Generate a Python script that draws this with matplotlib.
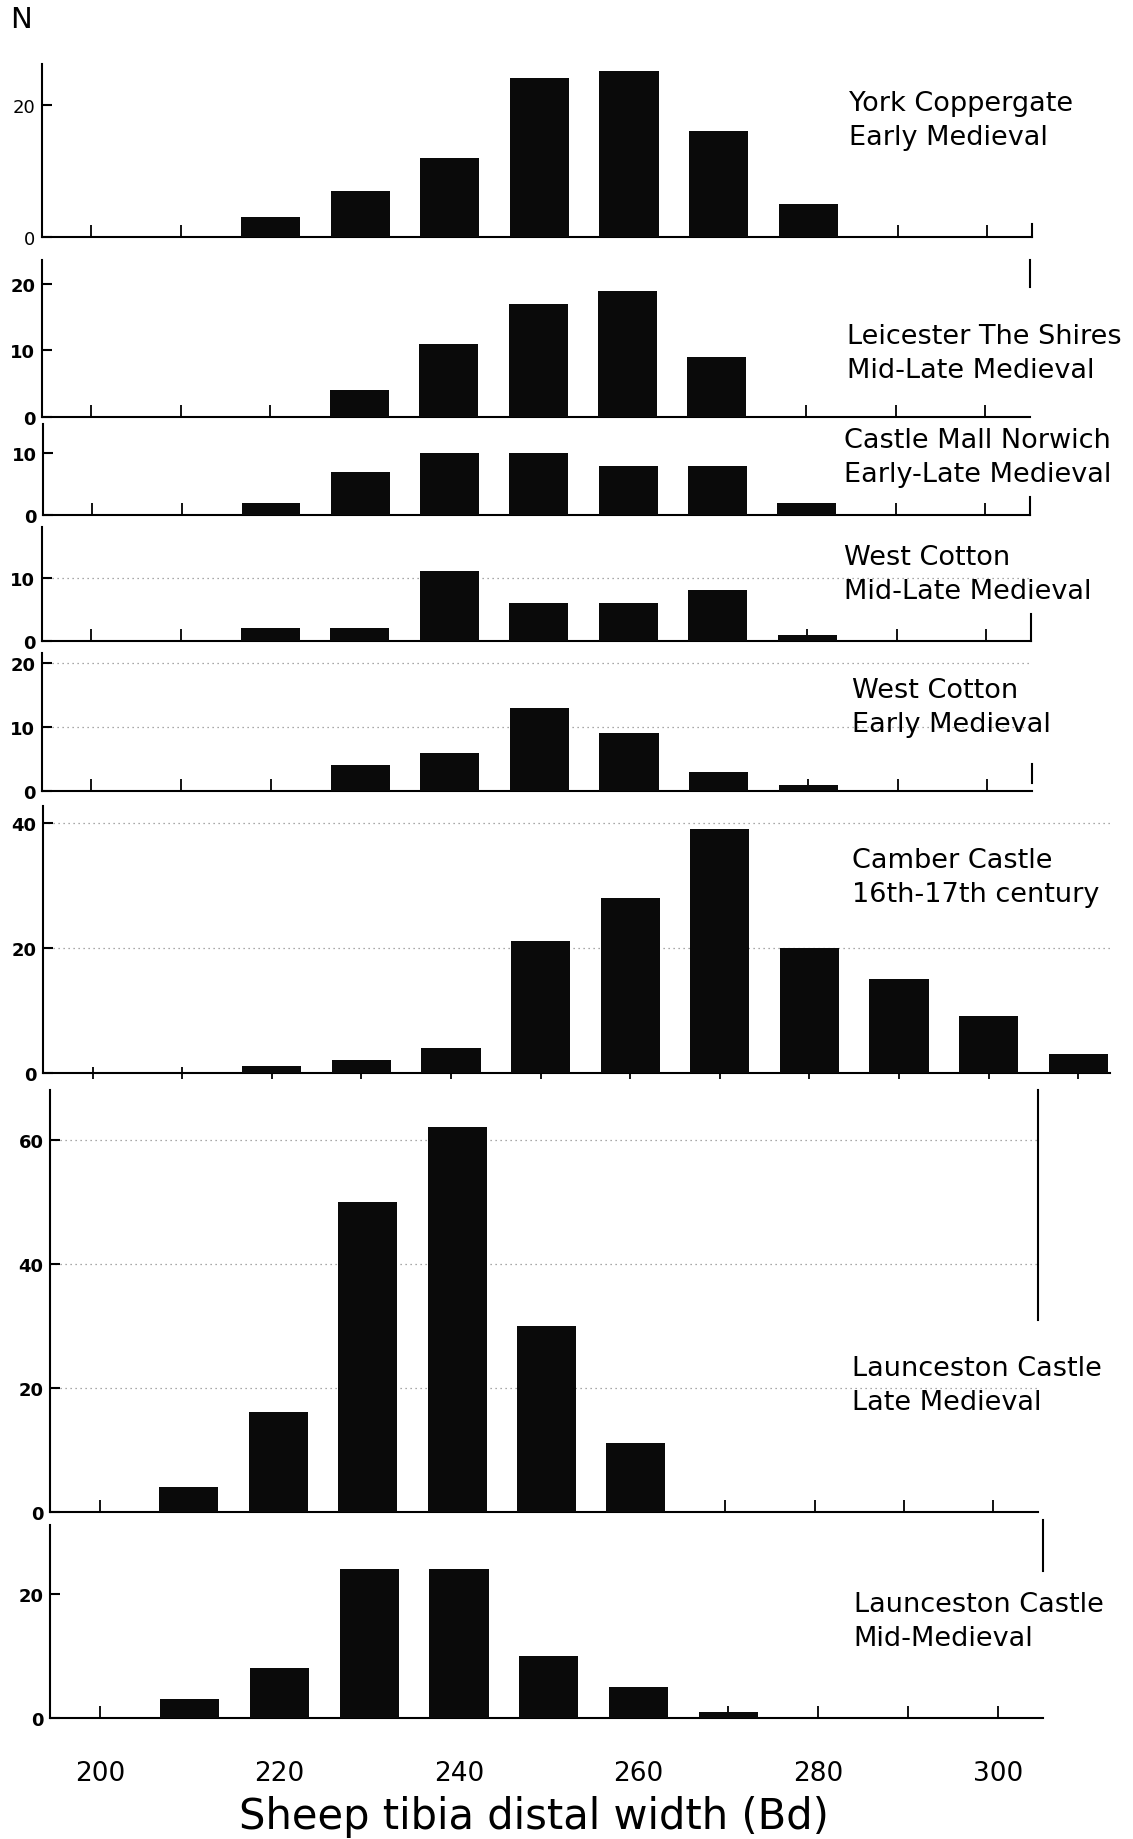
import matplotlib
matplotlib.use('Agg')
import matplotlib.pyplot as plt

# counts per 10-unit bin of distal width (Bd)
york_bd = [220, 230, 240, 250, 260, 270, 280]
york_n = [3, 7, 12, 24, 25, 16, 5]

leic_bd = [230, 240, 250, 260, 270]
leic_n = [4, 11, 17, 19, 9]

norwich_bd = [220, 230, 240, 250, 260, 270, 280]
norwich_n = [2, 7, 10, 10, 8, 8, 2]

wcml_bd = [220, 230, 240, 250, 260, 270, 280]
wcml_n = [2, 2, 11, 6, 6, 8, 1]

wce_bd = [230, 240, 250, 260, 270, 280]
wce_n = [4, 6, 13, 9, 3, 1]

camber_bd = [220, 230, 240, 250, 260, 270, 280, 290, 300, 310]
camber_n = [1, 2, 4, 21, 28, 39, 20, 15, 9, 3]

launl_bd = [210, 220, 230, 240, 250, 260]
launl_n = [4, 16, 50, 62, 30, 11]

launm_bd = [210, 220, 230, 240, 250, 260, 270]
launm_n = [3, 8, 24, 24, 10, 5, 1]

sites = ['York Coppergate\nEarly Medieval',
         'Leicester The Shires\nMid-Late Medieval',
         'Castle Mall Norwich\nEarly-Late Medieval',
         'West Cotton\nMid-Late Medieval',
         'West Cotton\nEarly Medieval',
         'Camber Castle\n16th-17th century',
         'Launceston Castle\nLate Medieval',
         'Launceston Castle\nMid-Medieval']

bd = [york_bd, leic_bd, norwich_bd, wcml_bd, wce_bd, camber_bd, launl_bd, launm_bd]
counts = [york_n, leic_n, norwich_n, wcml_n, wce_n, camber_n, launl_n, launm_n]
yticks = [[0, 20], [0, 10, 20], [0, 10], [0, 10], [0, 10, 20], [0, 20, 40],
          [0, 20, 40, 60], [0, 20]]

# layout measured on a 966x1568 copy of the page:
# left, right, baseline, top (px), ymax, xmax, label x, label y, right-edge line
W, H = 966, 1568
layout = [
    (36, 880, 203, 55, 26.2, 305, 724, 103, (0, 2)),
    (36, 878, 356, 222, 23.7, 305, 722, 302, (19.6, 23.7)),
    (37, 878, 440, 362, 14.7, 305, 720, 390, (0, 3)),
    (36, 879, 547, 450, 18.0, 305, 720, 490, (0, 4.3)),
    (36, 880, 675, 557, 21.6, 305, 726, 603, (1.3, 4.2)),
    (37, 946, 915, 688, 42.6, 313.5, 726, 748, None),
    (43, 885, 1289, 930, 68.0, 305, 726, 1181, (31, 68)),
    (43, 889, 1465, 1300, 31.1, 305, 728, 1382, (23.6, 31.9)),
]

fig = plt.figure(figsize=(11.33, 18.4), dpi=100)

for i in range(8):
    left, right, base, top, ymax, xmax, lx, ly, rb = layout[i]
    ax = fig.add_axes([left / W, 1 - base / H, (right - left) / W, (base - top) / H])
    ax.bar(bd[i], counts[i], width=6.6, color='#0a0a0a', zorder=3)
    ax.set_xlim(194.5, xmax)
    ax.set_ylim(0, ymax)
    ax.patch.set_alpha(0)

    ax.spines['top'].set_visible(False)
    for s in ['left', 'bottom', 'right']:
        ax.spines[s].set_linewidth(1.5)
    if rb is None:
        ax.spines['right'].set_visible(False)
    else:
        ax.spines['right'].set_bounds(*rb)

    ax.set_yticks(yticks[i])
    ax.tick_params(axis='y', direction='in', length=7, width=1.5, labelsize=13, pad=5)
    for t in ax.get_yticklabels():
        t.set_fontweight('normal' if i == 0 else 'bold')

    if i in (3, 4, 5, 6):
        ax.yaxis.grid(True, color='0.55', linestyle=(0, (1, 3)), linewidth=0.9, zorder=0)

    if i == 7:
        ax.set_xticks(range(200, 301, 20))
        ax.set_xticks(range(210, 301, 20), minor=True)
        ax.tick_params(axis='x', which='both', direction='in', length=9, width=1.3,
                       labelsize=19, pad=30)
    else:
        last = 311 if xmax > 310 else 301
        ax.set_xticks(range(200, last, 10))
        ax.tick_params(axis='x', direction='inout' if i == 5 else 'in', length=9,
                       width=1.3, labelbottom=False)

    fig.text(lx / W, 1 - ly / H, sites[i], ha='left', va='center', fontsize=19.5,
             linespacing=1.4)

fig.text(18 / W, 1 - 17 / H, 'N', ha='center', va='center', fontsize=21)
fig.text(455 / W, 1 - 1548 / H, 'Sheep tibia distal width (Bd)', ha='center', va='center',
         fontsize=30)

fig.savefig('out.png', dpi=100)
